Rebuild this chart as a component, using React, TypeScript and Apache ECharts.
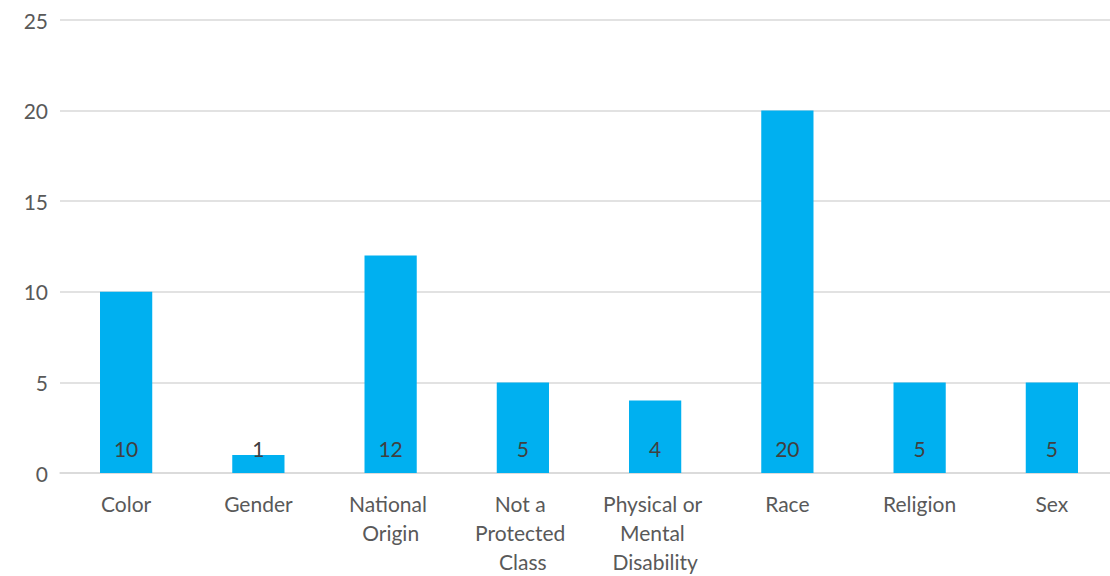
import React, { useEffect, useRef } from "react";
import * as echarts from "echarts";

const categories = [
  "Color",
  "Gender",
  "National Origin",
  "Not a Protected Class",
  "Physical or Mental Disability",
  "Race",
  "Religion",
  "Sex",
];
const counts = [10, 1, 12, 5, 4, 20, 5, 5];
const yTicks = { min: 0, max: 25, interval: 5 };

const FONT = "Lato, 'Open Sans', sans-serif";
const TEXT = "#595959";

export default function App() {
  const ref = useRef<HTMLDivElement>(null);

  useEffect(() => {
    if (!ref.current) return;
    const chart = echarts.init(ref.current, null, { renderer: "svg" });
    chart.setOption({
      animation: false,
      backgroundColor: "#ffffff",
      grid: { left: 60, right: 0, top: 20, bottom: 101 },
      xAxis: {
        type: "category",
        data: categories,
        axisTick: { show: false },
        axisLine: { lineStyle: { color: "#d9d9d9", width: 1.5 } },
        axisLabel: {
          interval: 0,
          color: TEXT,
          fontFamily: FONT,
          fontSize: 21,
          margin: 16,
          lineHeight: 29,
          width: 118,
          overflow: "break",
        },
      },
      yAxis: {
        type: "value",
        min: yTicks.min,
        max: yTicks.max,
        interval: yTicks.interval,
        axisLine: { show: false },
        axisTick: { show: false },
        splitLine: { lineStyle: { color: "#d9d9d9", width: 1.5 } },
        axisLabel: {
          color: TEXT,
          fontFamily: FONT,
          fontSize: 21,
          margin: 12,
        },
      },
      series: [
        {
          type: "bar",
          data: counts,
          barWidth: "39.5%",
          itemStyle: { color: "#00b0f0" },
          label: {
            show: true,
            position: "insideBottom",
            distance: 14,
            color: "#404040",
            fontFamily: FONT,
            fontSize: 21,
          },
        },
      ],
    });
    return () => chart.dispose();
  }, []);

  return (
    <div
      style={{
        position: "fixed",
        left: 0,
        top: 0,
        width: 1110,
        height: 576,
        overflow: "hidden",
        background: "#ffffff",
      }}
    >
      <div ref={ref} style={{ width: 1118, height: 576 }} />
    </div>
  );
}
